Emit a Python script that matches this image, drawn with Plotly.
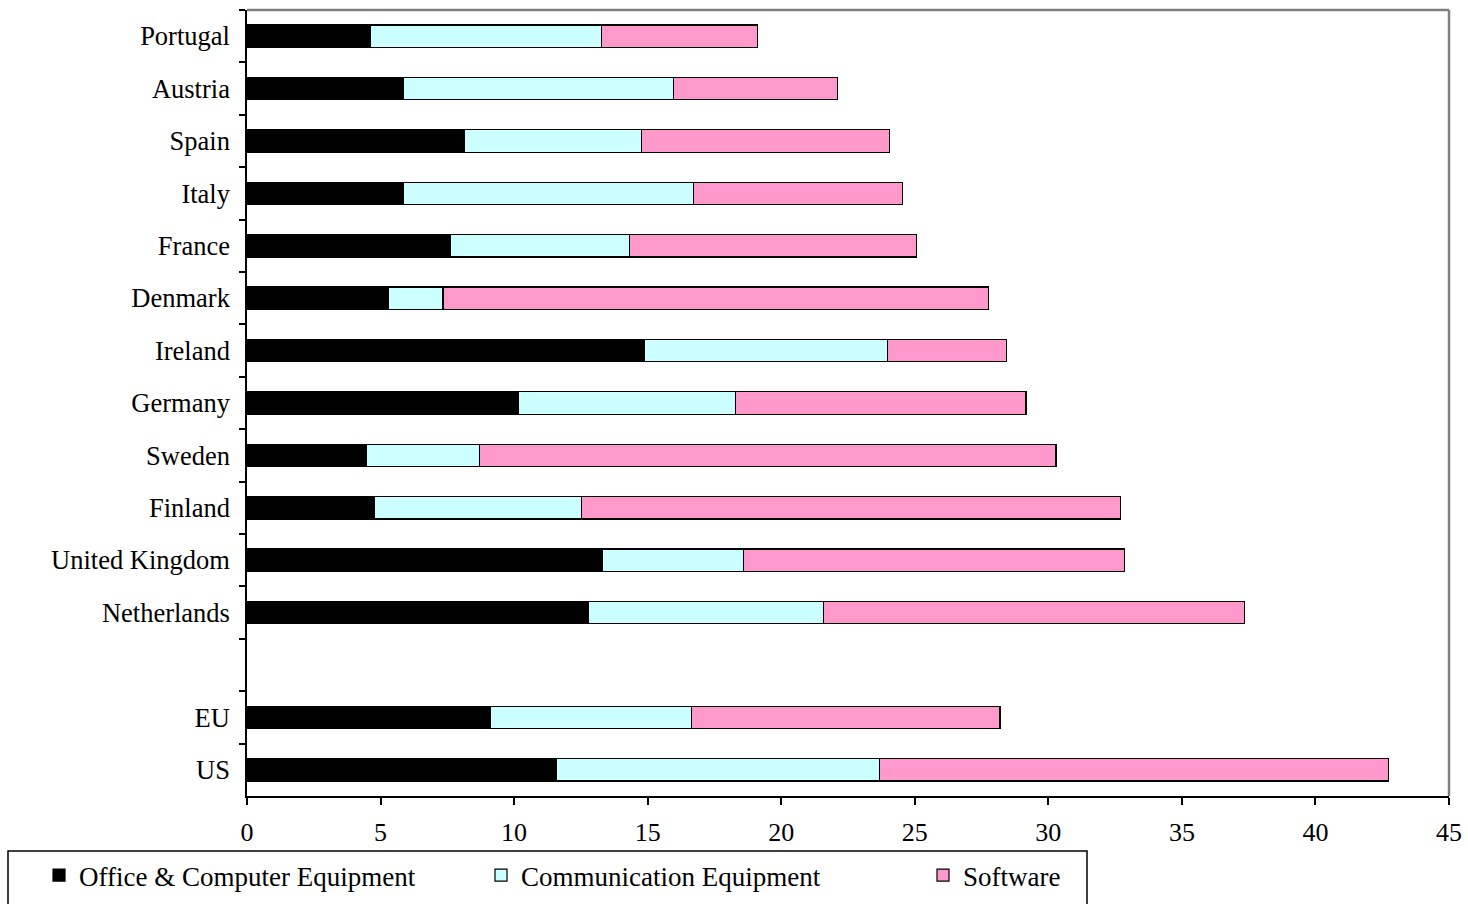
import plotly.graph_objects as go

# ICT investment by asset type, stacked per country
countries = ["Portugal", "Austria", "Spain", "Italy", "France", "Denmark",
             "Ireland", "Germany", "Sweden", "Finland", "United Kingdom",
             "Netherlands", " ", "EU", "US"]

office_computer = [4.61, 5.87, 8.13, 5.87, 7.61, 5.28, 14.87, 10.15, 4.46,
                   4.76, 13.30, 12.78, None, 9.10, 11.58]
communication = [8.65, 10.09, 6.63, 10.84, 6.70, 2.06, 9.11, 8.13, 4.23,
                 7.75, 5.28, 8.81, None, 7.54, 12.10]
software = [5.85, 6.15, 9.30, 7.82, 10.75, 20.42, 4.45, 10.88, 21.60,
            20.18, 14.26, 15.75, None, 11.55, 19.06]

series = [
    ("Office & Computer Equipment", office_computer, "#000000"),
    ("Communication Equipment", communication, "#CCFFFF"),
    ("Software", software, "#FF99CC"),
]

x_ticks = list(range(0, 50, 5))

FONT = "Liberation Serif, Times New Roman, serif"
W, H = 1468, 904
ML, MR, MT, MB = 247, 19, 10, 108
PW = W - ML - MR
PH = H - MT - MB


def px_x(p):
    return (p - ML) / PW


def px_y(p):
    return (H - MB - p) / PH


fig = go.Figure()
for name, vals, color in series:
    fig.add_trace(go.Bar(
        y=countries, x=vals, name=name, orientation="h",
        marker=dict(color=color, line=dict(color="#000000", width=1.2)),
    ))

fig.update_layout(
    width=W, height=H,
    margin=dict(l=ML, r=MR, t=MT, b=MB, autoexpand=False),
    barmode="stack", bargap=0.57,
    plot_bgcolor="white", paper_bgcolor="white",
    font=dict(family=FONT, size=26, color="#000000"),
    showlegend=True,
    legend=dict(
        orientation="h", x=px_x(39), y=px_y(851), xanchor="left", yanchor="top",
        font=dict(family=FONT, size=27, color="#000000"),
        bgcolor="rgba(0,0,0,0)", borderwidth=0,
        itemwidth=30, entrywidth=397, entrywidthmode="pixels",
        traceorder="normal",
    ),
    xaxis=dict(
        range=[0, 45], tickvals=x_ticks, ticktext=[str(v) for v in x_ticks],
        showgrid=False, zeroline=False,
        showline=True, linecolor="#000000", linewidth=1.5,
        ticks="outside", ticklen=7, tickcolor="#000000", tickwidth=1.5,
        ticklabelstandoff=5, automargin=False,
        tickfont=dict(family=FONT, size=26),
        fixedrange=True,
    ),
    yaxis=dict(
        type="category", categoryorder="array", categoryarray=countries,
        autorange="reversed",
        showgrid=False, zeroline=False,
        showline=True, linecolor="#000000", linewidth=1.5,
        ticks="outside", ticklen=6, tickcolor="#000000", tickwidth=1.5,
        tickson="boundaries", ticklabelstandoff=10, automargin=False,
        tickfont=dict(family=FONT, size=26.5),
        fixedrange=True,
    ),
    shapes=[
        # gray frame on top and right of the plot area
        dict(type="line", xref="paper", yref="paper", x0=0, x1=1, y0=1, y1=1,
             line=dict(color="#808080", width=2.5)),
        dict(type="line", xref="paper", yref="paper", x0=1, x1=1, y0=0, y1=1,
             line=dict(color="#808080", width=2.5)),
        # legend frame
        dict(type="rect", xref="paper", yref="paper",
             x0=px_x(8), x1=px_x(1087), y0=px_y(851), y1=px_y(930),
             line=dict(color="#000000", width=1.5), fillcolor="rgba(0,0,0,0)"),
    ],
)

fig.write_html("out.html")
